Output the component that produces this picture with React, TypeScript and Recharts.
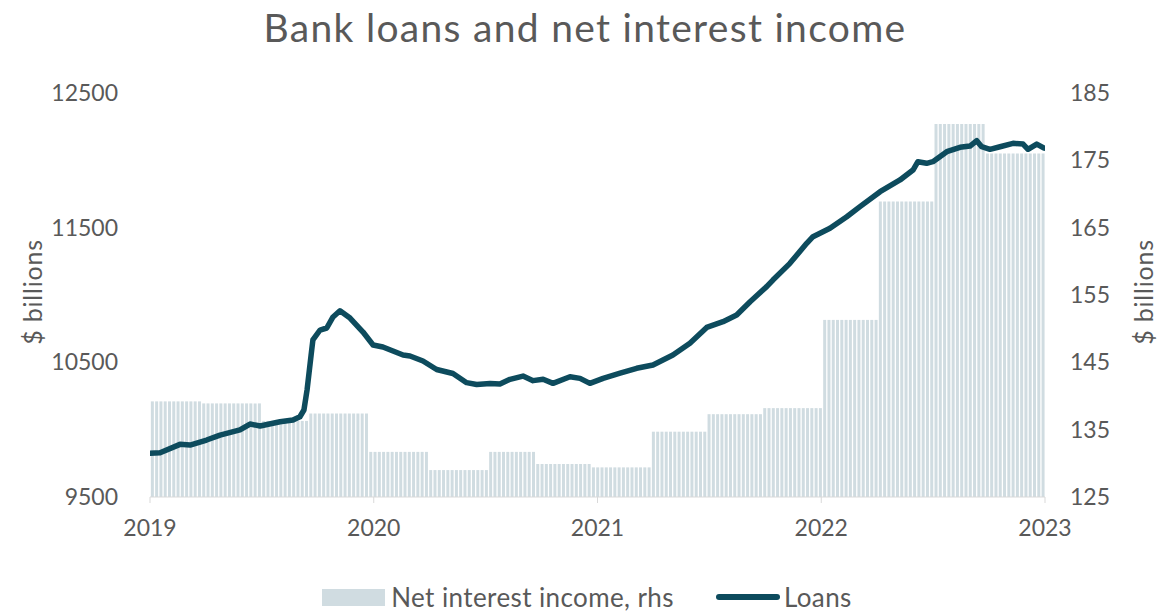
import React from 'react';
import { ComposedChart, Bar, Line, XAxis, YAxis, Legend } from 'recharts';

// Net interest income (rhs, $ billions): start date of each period (as fractional year) and value
const niiPeriodStart = [
  2019.0, 2019.232, 2019.492, 2019.702, 2019.983, 2020.238, 2020.506, 2020.73,
  2020.98, 2021.248, 2021.494, 2021.749, 2022.004, 2022.25, 2022.5, 2022.741,
];
const niiValues = [
  139.2, 138.9, 136.3, 137.4, 131.7, 129.0, 131.7, 129.9,
  129.4, 134.7, 137.3, 138.2, 151.3, 168.9, 180.4, 176.0,
];

// Loans (lhs, $ billions)
const loanDates = [
  2019.0, 2019.045, 2019.134, 2019.179, 2019.253, 2019.313, 2019.402, 2019.447, 2019.492, 2019.581,
  2019.639, 2019.67, 2019.688, 2019.702, 2019.72, 2019.728, 2019.76, 2019.79, 2019.818, 2019.849,
  2019.894, 2019.952, 2019.997, 2020.041, 2020.086, 2020.131, 2020.162, 2020.22, 2020.281, 2020.354,
  2020.415, 2020.46, 2020.52, 2020.564, 2020.609, 2020.667, 2020.712, 2020.757, 2020.801, 2020.877,
  2020.922, 2020.966, 2021.025, 2021.101, 2021.175, 2021.248, 2021.337, 2021.413, 2021.488, 2021.561,
  2021.622, 2021.682, 2021.756, 2021.784, 2021.86, 2021.935, 2021.963, 2022.039, 2022.114, 2022.173,
  2022.263, 2022.352, 2022.41, 2022.432, 2022.471, 2022.499, 2022.561, 2022.62, 2022.665, 2022.695,
  2022.717, 2022.754, 2022.799, 2022.857, 2022.902, 2022.924, 2022.963, 2022.996,
];
const loanValues = [
  9824, 9829, 9891, 9886, 9923, 9960, 9998, 10042, 10027, 10059,
  10072, 10096, 10146, 10295, 10554, 10666, 10740, 10755, 10837, 10883,
  10829, 10725, 10629, 10614, 10584, 10554, 10547, 10510, 10447, 10417,
  10349, 10335, 10343, 10339, 10374, 10398, 10364, 10374, 10344, 10393,
  10381, 10344, 10381, 10419, 10456, 10480, 10554, 10641, 10759, 10802,
  10851, 10950, 11062, 11111, 11235, 11384, 11433, 11495, 11581, 11656,
  11767, 11854, 11928, 11990, 11978, 11990, 12064, 12097, 12106, 12146,
  12101, 12082, 12101, 12126, 12121, 12082, 12121, 12091,
];

const xTicks = [2019, 2020, 2021, 2022, 2023];
const leftTicks = [9500, 10500, 11500, 12500];
const rightTicks = [125, 135, 145, 155, 165, 175, 185];

const WEEKS_PER_YEAR = 52.18;
const WEEK_COUNT = 209;

const barData = Array.from({ length: WEEK_COUNT }, (_, i) => {
  const t = 2019 + (i + 0.5) / WEEKS_PER_YEAR;
  let p = 0;
  for (let k = 0; k < niiPeriodStart.length; k++) if (t >= niiPeriodStart[k]) p = k;
  return { week: i, nii: niiValues[p] };
});
const loanData = loanDates.map((t, i) => ({ t, loans: loanValues[i] }));

const TEXT = '#595959';
const BAR = '#D0DCE1';
const LINE = '#0D4B5D';
const FONT = 'Lato, "Open Sans", sans-serif';

const SideLabel = (props: any) => {
  const { viewBox, side } = props;
  const vb = viewBox || { x: 0, y: 93, width: 150, height: 404 };
  const cx = side === 'left' ? vb.x + 32 : vb.x + vb.width - 19;
  const cy = vb.y + vb.height / 2 - 3;
  return (
    <text
      x={cx}
      y={cy}
      transform={`rotate(-90 ${cx} ${cy})`}
      textAnchor="middle"
      dominantBaseline="central"
      fill={TEXT}
      fontSize={25}
      letterSpacing={0.8}
      fontFamily={FONT}
    >
      $ billions
    </text>
  );
};

const LegendContent = () => (
  <div
    style={{
      display: 'flex',
      justifyContent: 'center',
      alignItems: 'center',
      fontFamily: FONT,
      fontSize: 26,
      letterSpacing: 0.4,
      color: TEXT,
      width: 1162,
      height: 26,
      paddingLeft: 12,
      boxSizing: 'border-box',
    }}
  >
    <span style={{ display: 'inline-block', width: 63, height: 17, background: BAR, marginRight: 6 }} />
    <span>Net interest income, rhs</span>
    <span style={{ display: 'inline-block', width: 64, height: 6, background: LINE, borderRadius: 3, marginLeft: 42, marginRight: 4 }} />
    <span>Loans</span>
  </div>
);

export default function App() {
  return (
    <div style={{ position: 'absolute', left: 0, top: 0, width: 1162, height: 612, background: '#fff', fontFamily: FONT }}>
      <div
        style={{
          position: 'absolute',
          top: 4,
          left: 0,
          width: 1162,
          textAlign: 'center',
          fontSize: 39,
          letterSpacing: 1.3,
          color: TEXT,
          fontFamily: FONT,
          paddingLeft: 4,
        }}
      >
        Bank loans and net interest income
      </div>
      <ComposedChart
        width={1162}
        height={612}
        data={barData}
        margin={{ top: 93, right: 0, bottom: 49, left: 0 }}
        barCategoryGap="20%"
      >
        <XAxis xAxisId="weeks" dataKey="week" type="category" hide />
        <XAxis
          xAxisId="time"
          dataKey="t"
          type="number"
          domain={[2019, 2023]}
          allowDataOverflow
          ticks={xTicks}
          interval={0}
          tickFormatter={(v: number) => String(Math.round(v))}
          axisLine={{ stroke: '#D9D9D9' }}
          tickLine={{ stroke: '#D9D9D9' }}
          tickSize={6}
          tickMargin={17}
          height={40}
          tick={{ fill: TEXT, fontSize: 23, fontFamily: FONT }}
        />
        <YAxis
          yAxisId="left"
          orientation="left"
          domain={[9500, 12500]}
          ticks={leftTicks}
          interval={0}
          allowDataOverflow
          axisLine={false}
          tickLine={false}
          tickSize={0}
          tickMargin={32}
          width={150}
          tick={{ fill: TEXT, fontSize: 23, fontFamily: FONT }}
          label={<SideLabel side="left" />}
        />
        <YAxis
          yAxisId="right"
          orientation="right"
          domain={[125, 185]}
          ticks={rightTicks}
          interval={0}
          allowDataOverflow
          axisLine={false}
          tickLine={false}
          tickSize={0}
          tickMargin={25}
          width={117}
          tick={{ fill: TEXT, fontSize: 23, fontFamily: FONT }}
          label={<SideLabel side="right" />}
        />
        <Bar
          xAxisId="weeks"
          yAxisId="right"
          dataKey="nii"
          name="Net interest income, rhs"
          fill={BAR}
          isAnimationActive={false}
        />
        <Line
          xAxisId="time"
          yAxisId="left"
          data={loanData}
          dataKey="loans"
          name="Loans"
          type="linear"
          stroke={LINE}
          strokeWidth={5.5}
          dot={false}
          activeDot={false}
          strokeLinejoin="round"
          strokeLinecap="round"
          isAnimationActive={false}
        />
        <Legend
          layout="vertical"
          align="center"
          verticalAlign="bottom"
          content={<LegendContent />}
          wrapperStyle={{ position: 'absolute', left: 0, top: 584, width: 1162, height: 26 }}
        />
      </ComposedChart>
    </div>
  );
}
